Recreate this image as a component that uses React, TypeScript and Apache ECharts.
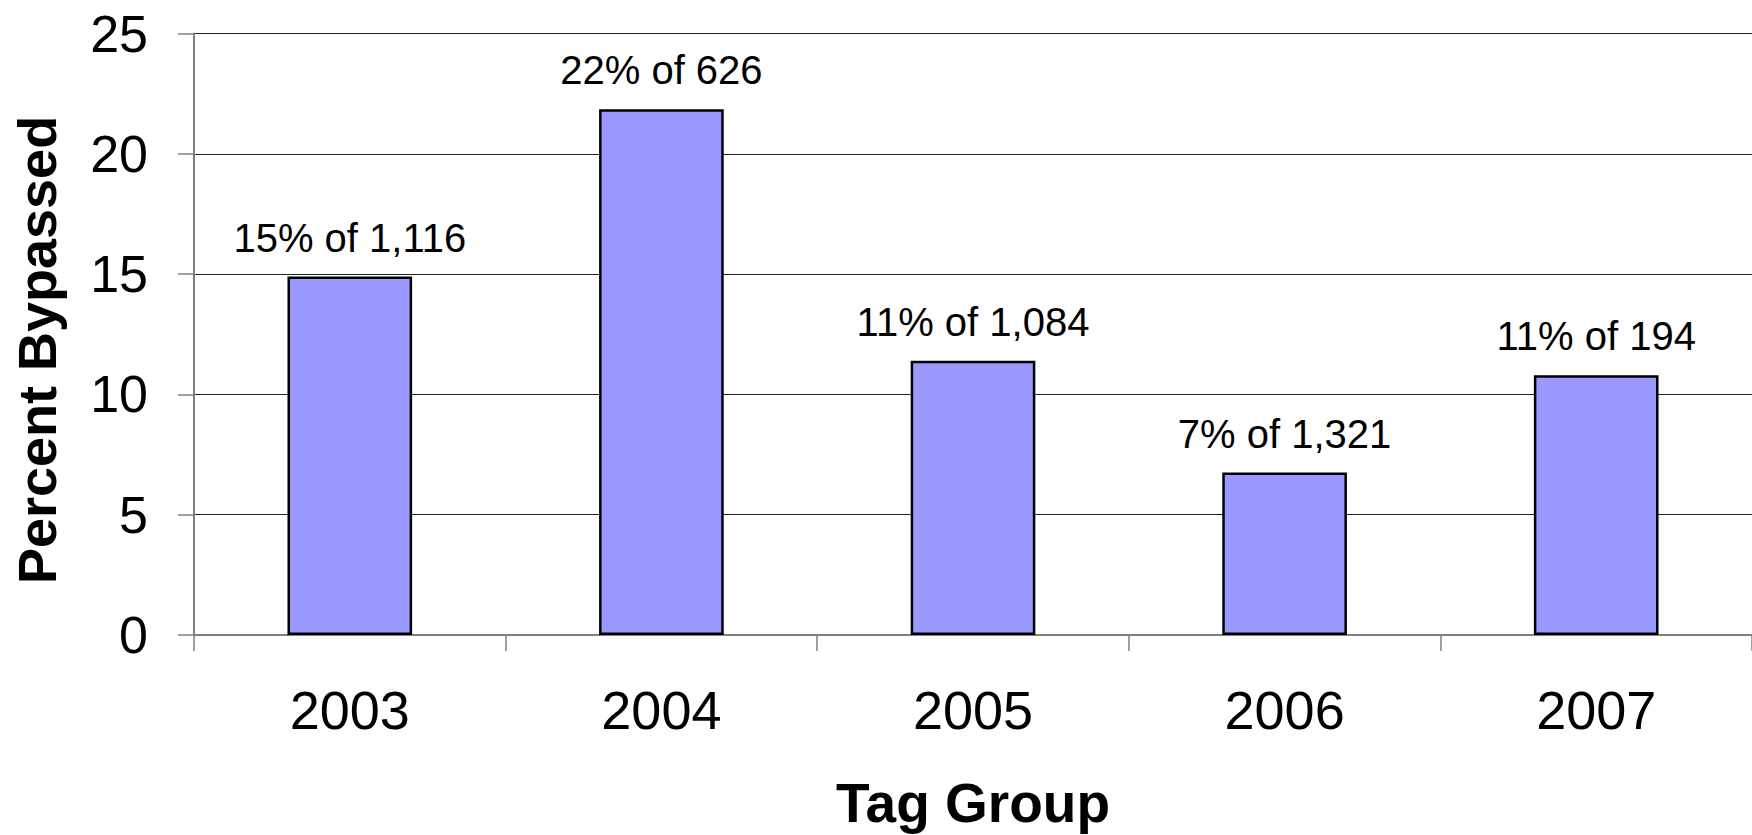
import React, { useEffect, useRef } from "react";
import * as echarts from "echarts";

const categories = ["2003", "2004", "2005", "2006", "2007"];
const percentBypassed = [14.9, 21.85, 11.4, 6.75, 10.8];
const roundedPercent = [15, 22, 11, 7, 11];
const tagTotals = ["1,116", "626", "1,084", "1,321", "194"];
const yTicks = { min: 0, max: 25, interval: 5 };

const FONT = "'Liberation Sans', Arial, Helvetica, sans-serif";

export default function App() {
  const ref = useRef<HTMLDivElement>(null);
  useEffect(() => {
    document.body.style.margin = "0";
    const chart = echarts.init(ref.current!, null, { renderer: "svg" });
    chart.setOption({
      animation: false,
      backgroundColor: "#ffffff",
      grid: { left: 194, right: 0, top: 33.5, bottom: 194 },
      xAxis: {
        type: "category",
        data: categories,
        axisLine: { show: true, lineStyle: { color: "#808080", width: 2 } },
        axisTick: { show: true, length: 16, lineStyle: { color: "#808080", width: 1.5 } },
        axisLabel: { color: "#000", fontSize: 54, fontFamily: FONT, margin: 48 },
        name: "Tag Group",
        nameLocation: "middle",
        nameGap: 140,
        nameTextStyle: { color: "#000", fontSize: 55, fontWeight: "bold", fontFamily: FONT },
      },
      yAxis: {
        type: "value",
        min: yTicks.min,
        max: yTicks.max,
        interval: yTicks.interval,
        axisLine: { show: true, lineStyle: { color: "#808080", width: 2 } },
        axisTick: { show: true, length: 16, lineStyle: { color: "#808080", width: 1.5 } },
        axisLabel: { color: "#000", fontSize: 52, fontFamily: FONT, margin: 46 },
        splitLine: { show: true, lineStyle: { color: "#222", width: 1.2 } },
      },
      graphic: [
        {
          type: "text",
          x: 37,
          y: 350,
          rotation: Math.PI / 2,
          style: {
            text: "Percent Bypassed",
            fontSize: 54,
            fontWeight: "bold",
            fontFamily: FONT,
            fill: "#000",
            align: "center",
            verticalAlign: "middle",
          },
        },
      ],
      series: [
        {
          type: "bar",
          data: percentBypassed,
          barWidth: "40%",
          itemStyle: { color: "#9999ff", borderColor: "#000", borderWidth: 2.5 },
          label: {
            show: true,
            position: "top",
            distance: 19,
            color: "#000",
            fontSize: 40,
            fontFamily: FONT,
            formatter: (p: any) => `${roundedPercent[p.dataIndex]}% of ${tagTotals[p.dataIndex]}`,
          },
        },
      ],
    });
    return () => chart.dispose();
  }, []);
  return <div ref={ref} style={{ width: 1752, height: 835 }} />;
}
